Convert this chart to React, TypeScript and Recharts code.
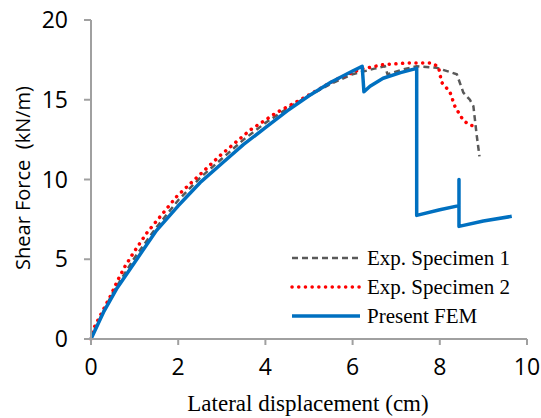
import { LineChart, Line, XAxis, YAxis } from 'recharts';

// Present FEM (blue solid)
const femX = [0, 0.3, 0.6, 1.0, 1.5, 2.0, 2.5, 3.0, 3.5, 4.0, 4.5, 5.0, 5.5, 6.0, 6.22, 6.26, 6.4, 6.7, 7.1, 7.47, 7.47, 8.0, 8.44, 8.44, 8.44, 9.0, 9.65];
const femY = [0, 1.75, 3.2, 4.8, 6.8, 8.35, 9.8, 11.0, 12.2, 13.25, 14.3, 15.25, 16.1, 16.8, 17.1, 15.5, 15.85, 16.35, 16.7, 16.97, 7.75, 8.1, 8.36, 10.0, 7.06, 7.4, 7.69];

// Exp. Specimen 1 (grey dashed)
const spec1X = [0, 0.1, 0.5, 1.0, 1.5, 2.0, 2.5, 3.0, 3.5, 4.0, 4.5, 5.0, 5.5, 6.0, 6.5, 6.74, 6.8, 7.16, 7.47, 7.93, 8.39, 8.54, 8.69, 8.77, 8.85, 8.91];
const spec1Y = [0, 0.7, 2.9, 5.1, 7.0, 8.7, 10.1, 11.3, 12.5, 13.55, 14.45, 15.25, 16.0, 16.6, 16.95, 17.1, 16.6, 16.9, 17.1, 17.0, 16.6, 15.45, 15.0, 14.6, 12.7, 11.45];

// Exp. Specimen 2 (red dotted)
const spec2X = [0, 0.03, 0.2, 0.46, 0.61, 0.78, 0.97, 1.28, 1.97, 2.96, 3.65, 4.26, 4.87, 5.64, 6.17, 6.7, 7.24, 7.62, 7.81, 7.97, 8.04, 8.23, 8.35, 8.54, 8.69, 8.88];
const spec2Y = [0, 0.5, 1.4, 2.77, 3.67, 4.55, 5.39, 6.65, 8.95, 11.5, 13.1, 14.2, 15.1, 16.3, 16.9, 17.2, 17.3, 17.3, 17.3, 17.07, 16.1, 15.5, 14.56, 13.7, 13.4, 13.35];

const xTicks = [0, 2, 4, 6, 8, 10];
const yTicks = [0, 5, 10, 15, 20];

const seriesNames = ['Exp. Specimen 1', 'Exp. Specimen 2', 'Present FEM'];

function zip(xs: number[], ys: number[]) {
	return xs.map((x, i) => ({ x, y: ys[i] }));
}

const femData = zip(femX, femY);
const spec1Data = zip(spec1X, spec1Y);
const spec2Data = zip(spec2X, spec2Y);

const axisColor = '#a0a0a0';
const tickFont = { fontFamily: 'Open Sans', fontSize: 23, fill: '#000' };

const legendRows = [
	{ stroke: '#595959', dash: '6 4', width: 2.5, cap: 'butt' as const },
	{ stroke: '#ff0000', dash: '0.1 6.6', width: 3.5, cap: 'round' as const },
	{ stroke: '#0070c0', dash: undefined, width: 3.5, cap: 'butt' as const },
];

export default function App() {
	return (
		<div style={{ position: 'absolute', left: 0, top: 0, width: 541, height: 418, background: '#fff' }}>
			<LineChart
				width={541}
				height={418}
				margin={{ top: 20, right: 14, left: 0, bottom: 0 }}>
				<XAxis
					type='number'
					dataKey='x'
					domain={[0, 10]}
					ticks={xTicks}
					height={79}
					stroke={axisColor}
					strokeWidth={2}
					tickSize={6}
					tickMargin={14}
					tick={tickFont}
					allowDuplicatedCategory={false}
				/>
				<YAxis
					type='number'
					dataKey='y'
					domain={[0, 20]}
					ticks={yTicks}
					width={91}
					stroke={axisColor}
					strokeWidth={2}
					tickSize={7}
					tickMargin={16}
					tick={tickFont}
				/>
				<Line
					data={spec1Data}
					dataKey='y'
					name={seriesNames[0]}
					type='linear'
					stroke='#595959'
					strokeWidth={2.5}
					strokeDasharray='6 4'
					dot={false}
					isAnimationActive={false}
				/>
				<Line
					data={spec2Data}
					dataKey='y'
					name={seriesNames[1]}
					type='linear'
					stroke='#ff0000'
					strokeWidth={3.5}
					strokeDasharray='0.1 6.6'
					strokeLinecap='round'
					dot={false}
					isAnimationActive={false}
				/>
				<Line
					data={femData}
					dataKey='y'
					name={seriesNames[2]}
					type='linear'
					stroke='#0070c0'
					strokeWidth={3.5}
					strokeLinejoin='round'
					dot={false}
					isAnimationActive={false}
				/>
				<g transform='translate(292, 245)'>
					{legendRows.map((r, i) => (
						<g key={seriesNames[i]}>
							<line
								x1={0}
								x2={68}
								y1={13 + i * 29}
								y2={13 + i * 29}
								stroke={r.stroke}
								strokeWidth={r.width}
								strokeDasharray={r.dash}
								strokeLinecap={r.cap}
							/>
							<text
								x={75}
								y={13 + i * 29}
								dy='0.33em'
								fontFamily='Liberation Serif'
								fontSize={21}
								fill='#000'>
								{seriesNames[i]}
							</text>
						</g>
					))}
				</g>
				<text
					x={30}
					y={178}
					transform='rotate(-90 30 178)'
					textAnchor='middle'
					fontFamily='Open Sans'
					fontSize={20}
					fill='#000'
					style={{ whiteSpace: 'pre' }}>
					{'Shear Force  (kN/m)'}
				</text>
				<text
					x={308}
					y={411}
					textAnchor='middle'
					fontFamily='Liberation Serif'
					fontSize={23}
					fill='#000'>
					Lateral displacement (cm)
				</text>
			</LineChart>
		</div>
	);
}
